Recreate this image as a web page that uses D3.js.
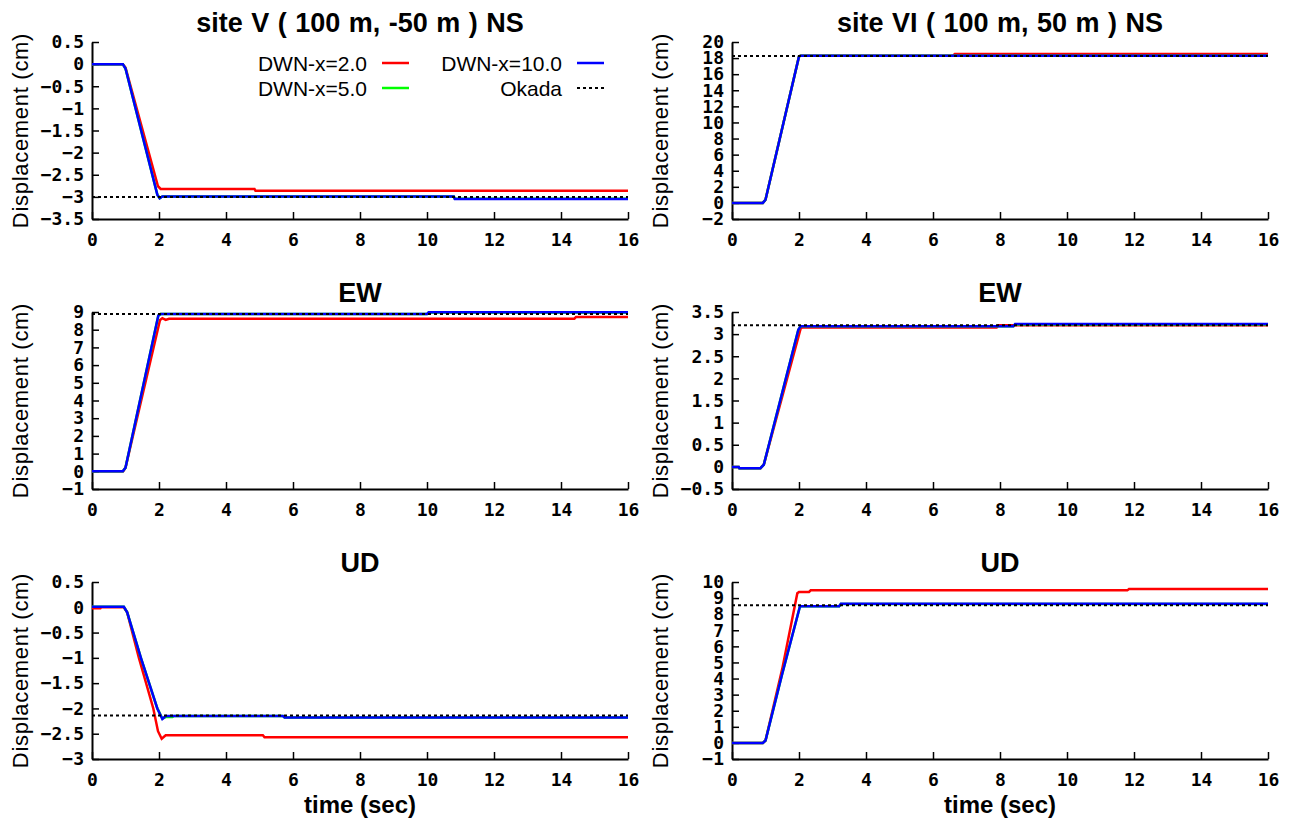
<!DOCTYPE html>
<html>
<head>
<meta charset="utf-8">
<script src="https://cdn.jsdelivr.net/npm/d3@7"></script>
<style>
  body { margin: 0; background: #fff; }
  svg { display: block; font-family: "Liberation Sans", Arial, sans-serif; }
  .tick text { font-family: "DejaVu Sans Mono", monospace; font-weight: bold; font-size: 18px; fill: #000; }
  .tick line { stroke: #000; stroke-width: 1.5; }
  .domain { stroke: #000; stroke-width: 2; }
</style>
</head>
<body>
<div id="chart"></div>
<script>
// time axis
const timeTicks = [0, 2, 4, 6, 8, 10, 12, 14, 16];

// site V NS
const vNS_dwn2  = [[0,0],[0.92,0],[1.0,-0.08],[1.97,-2.76],[2.05,-2.82],[4.85,-2.82],[4.88,-2.86],[16,-2.86]];
const vNS_dwn5  = [[0,0],[0.92,0],[1.0,-0.1],[1.95,-2.95],[2.02,-3.03],[2.1,-2.99],[10.8,-2.99],[10.83,-3.04],[16,-3.04]];
const vNS_dwn10 = [[0,0],[0.92,0],[1.0,-0.1],[1.95,-2.95],[2.02,-3.03],[2.1,-2.99],[10.8,-2.99],[10.83,-3.05],[16,-3.05]];
const vNS_okada = -3.0;
const vNS_ticks = [0.5, 0, -0.5, -1, -1.5, -2, -2.5, -3, -3.5];

// site VI NS
const viNS_dwn2  = [[0,0],[0.92,0],[1.0,0.4],[2.0,18.2],[2.05,18.3],[6.6,18.3],[6.65,18.5],[16,18.5]];
const viNS_dwn5  = [[0,0],[0.92,0],[1.0,0.4],[2.0,18.2],[2.05,18.3],[16,18.3]];
const viNS_dwn10 = [[0,0],[0.92,0],[1.0,0.4],[2.0,18.2],[2.05,18.3],[16,18.3]];
const viNS_okada = 18.25;
const viNS_ticks = [-2, 0, 2, 4, 6, 8, 10, 12, 14, 16, 18, 20];

// site V EW
const vEW_dwn2  = [[0,0],[0.93,0],[1.0,0.2],[2.03,8.55],[2.1,8.65],[2.2,8.55],[2.3,8.62],[14.4,8.62],[14.45,8.72],[16,8.72]];
const vEW_dwn5  = [[0,0],[0.92,0],[1.0,0.2],[1.98,8.8],[2.05,8.88],[10,8.88],[10.05,8.97],[16,8.97]];
const vEW_dwn10 = [[0,0],[0.92,0],[1.0,0.2],[1.98,8.8],[2.05,8.88],[10,8.88],[10.05,8.98],[16,8.98]];
const vEW_okada = 8.88;
const vEW_ticks = [-1, 0, 1, 2, 3, 4, 5, 6, 7, 8, 9];

// site VI EW
const viEW_dwn2  = [[0,0],[0.2,0],[0.22,-0.03],[0.85,-0.03],[0.95,0.05],[2.05,3.13],[2.1,3.15],[7.9,3.15],[7.95,3.2],[16,3.2]];
const viEW_dwn5  = [[0,0],[0.2,0],[0.22,-0.03],[0.85,-0.03],[0.95,0.05],[1.98,3.1],[2.05,3.18],[8.4,3.18],[8.45,3.22],[16,3.22]];
const viEW_dwn10 = [[0,0],[0.2,0],[0.22,-0.03],[0.85,-0.03],[0.95,0.05],[1.98,3.1],[2.05,3.18],[8.4,3.18],[8.45,3.23],[16,3.23]];
const viEW_okada = 3.2;
const viEW_ticks = [-0.5, 0, 0.5, 1, 1.5, 2, 2.5, 3, 3.5];

// site V UD
const vUD_dwn2  = [[0,-0.02],[0.25,-0.02],[0.27,0],[0.95,0],[1.05,-0.1],[1.4,-1.0],[1.83,-2.0],[1.97,-2.45],[2.08,-2.6],[2.2,-2.53],[5.1,-2.53],[5.15,-2.57],[16,-2.57]];
const vUD_dwn5  = [[0,0.01],[0.95,0.01],[1.05,-0.1],[1.46,-1.0],[1.95,-2.0],[2.1,-2.2],[2.2,-2.17],[2.4,-2.17],[2.45,-2.15],[5.7,-2.15],[5.75,-2.18],[16,-2.18]];
const vUD_dwn10 = [[0,0.01],[0.95,0.01],[1.05,-0.1],[1.46,-1.0],[1.95,-2.0],[2.1,-2.21],[2.2,-2.15],[5.7,-2.15],[5.75,-2.18],[16,-2.18]];
const vUD_okada = -2.14;
const vUD_ticks = [0.5, 0, -0.5, -1, -1.5, -2, -2.5, -3];

// site VI UD
const viUD_dwn2  = [[0,0],[0.92,0],[1.0,0.15],[1.5,4.6],[1.95,9.3],[2.0,9.38],[2.3,9.38],[2.35,9.48],[11.8,9.48],[11.85,9.56],[16,9.56]];
const viUD_dwn5  = [[0,0],[0.92,0],[1.0,0.15],[1.5,4.3],[2.03,8.5],[3.2,8.5],[3.25,8.64],[16,8.64]];
const viUD_dwn10 = [[0,0],[0.92,0],[1.0,0.15],[1.5,4.3],[2.03,8.5],[3.2,8.5],[3.25,8.65],[16,8.65]];
const viUD_okada = 8.55;
const viUD_ticks = [-1, 0, 1, 2, 3, 4, 5, 6, 7, 8, 9, 10];

const seriesNames = ["DWN-x=2.0", "DWN-x=5.0", "DWN-x=10.0", "Okada"];
const seriesColors = ["#ff0000", "#00ff00", "#0000ff", "#000000"];

const panels = [
  { col: 0, row: 0, title: "site V ( 100 m, -50 m ) NS", lines: [vNS_dwn2, vNS_dwn5, vNS_dwn10], okada: vNS_okada, ticks: vNS_ticks, legend: true },
  { col: 1, row: 0, title: "site VI ( 100 m, 50 m ) NS", lines: [viNS_dwn2, viNS_dwn5, viNS_dwn10], okada: viNS_okada, ticks: viNS_ticks },
  { col: 0, row: 1, title: "EW", lines: [vEW_dwn2, vEW_dwn5, vEW_dwn10], okada: vEW_okada, ticks: vEW_ticks },
  { col: 1, row: 1, title: "EW", lines: [viEW_dwn2, viEW_dwn5, viEW_dwn10], okada: viEW_okada, ticks: viEW_ticks },
  { col: 0, row: 2, title: "UD", lines: [vUD_dwn2, vUD_dwn5, vUD_dwn10], okada: vUD_okada, ticks: vUD_ticks, xlabel: true },
  { col: 1, row: 2, title: "UD", lines: [viUD_dwn2, viUD_dwn5, viUD_dwn10], okada: viUD_okada, ticks: viUD_ticks, xlabel: true }
];

const colLeft = [92, 732];
const plotWidth = 536;
const rowTop = [42, 312, 582];
const plotHeight = 177;

const svg = d3.select("#chart").append("svg")
  .attr("width", 1295)
  .attr("height", 820);

panels.forEach((p) => {
  const g = svg.append("g")
    .attr("transform", `translate(${colLeft[p.col]},${rowTop[p.row]})`);

  const x = d3.scaleLinear().domain([0, 16]).range([0, plotWidth]);
  const y = d3.scaleLinear().domain(d3.extent(p.ticks)).range([plotHeight, 0]);

  g.append("g")
    .attr("transform", `translate(0,${plotHeight})`)
    .call(d3.axisBottom(x).tickValues(timeTicks).tickSize(-7).tickSizeOuter(0).tickPadding(14));

  g.append("g")
    .call(d3.axisLeft(y).tickValues(p.ticks).tickSize(-7).tickSizeOuter(0).tickPadding(8)
      .tickFormat(d3.format("")));

  const line = d3.line().x((d) => x(d[0])).y((d) => y(d[1]));

  p.lines.forEach((pts, i) => {
    g.append("path")
      .datum(pts)
      .attr("fill", "none")
      .attr("stroke", seriesColors[i])
      .attr("stroke-width", 2.5)
      .attr("d", line);
  });

  g.append("line")
    .attr("x1", x(0)).attr("x2", x(16))
    .attr("y1", y(p.okada)).attr("y2", y(p.okada))
    .attr("stroke", "#000")
    .attr("stroke-width", 2)
    .attr("stroke-dasharray", "3,3");

  g.append("text")
    .attr("x", plotWidth / 2)
    .attr("y", -10)
    .attr("text-anchor", "middle")
    .attr("font-weight", "bold")
    .attr("font-size", 27)
    .attr("word-spacing", 1)
    .text(p.title);

  g.append("text")
    .attr("transform", `translate(${-72},${plotHeight / 2}) rotate(-90)`)
    .attr("text-anchor", "middle")
    .attr("dominant-baseline", "central")
    .attr("font-size", 22)
    .attr("letter-spacing", 0.7)
    .text("Displacement (cm)");

  if (p.xlabel) {
    g.append("text")
      .attr("x", plotWidth / 2)
      .attr("y", plotHeight + 54)
      .attr("text-anchor", "middle")
      .attr("font-weight", "bold")
      .attr("font-size", 24)
      .text("time (sec)");
  }

  if (p.legend) {
    const items = [
      { i: 0, tx: 275, ty: 21 },
      { i: 1, tx: 275, ty: 46 },
      { i: 2, tx: 470, ty: 21 },
      { i: 3, tx: 470, ty: 46 }
    ];
    items.forEach((it) => {
      g.append("text")
        .attr("x", it.tx)
        .attr("y", it.ty)
        .attr("text-anchor", "end")
        .attr("dominant-baseline", "central")
        .attr("font-size", 21)
        .text(seriesNames[it.i]);
      g.append("line")
        .attr("x1", it.tx + 15).attr("x2", it.tx + 42)
        .attr("y1", it.ty).attr("y2", it.ty)
        .attr("stroke", seriesColors[it.i])
        .attr("stroke-width", it.i === 3 ? 2 : 2.5)
        .attr("stroke-dasharray", it.i === 3 ? "3,3" : null);
    });
  }
});
</script>
</body>
</html>
